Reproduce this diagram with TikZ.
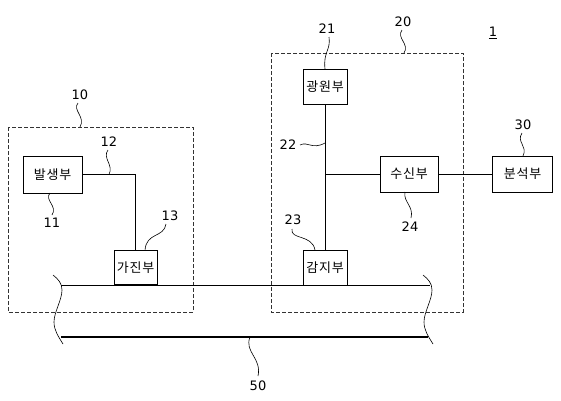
\documentclass[tikz,border=0pt]{standalone}
\usepackage{fontspec}
\setmainfont{DejaVu Sans}
\newfontfamily\kr[LetterSpace=6]{Noto Sans CJK KR}
\begin{document}
\begin{tikzpicture}[x=1pt,y=-1pt,
  blk/.style={draw, line width=0.8pt, inner sep=0pt, font=\kr\fontsize{13}{13}\selectfont},
  grp/.style={draw=black!80, dashed, dash pattern=on 4pt off 2pt, line width=0.8pt},
  wire/.style={line width=0.9pt},
  lead/.style={line width=0.6pt},
  num/.style={font=\fontsize{13}{13}\selectfont, inner sep=0pt}]
\useasboundingbox (0,0) rectangle (561,400);
% dashed groups
\draw[grp] (8,127) rectangle (193,312);
\draw[grp] (271,53) rectangle (463,312);
% blocks
\node[blk, minimum width=59pt, minimum height=37pt] (gen) at (52.5,174.5) {발생부};
\node[blk, minimum width=43pt, minimum height=34pt] (exc) at (135.5,267.5) {가진부};
\node[blk, minimum width=44pt, minimum height=35pt] (src) at (325,86.5) {광원부};
\node[blk, minimum width=44pt, minimum height=35pt] (det) at (325,267.5) {감지부};
\node[blk, minimum width=58pt, minimum height=36pt] (rcv) at (409,174) {수신부};
\node[blk, minimum width=60pt, minimum height=36pt] (ana) at (522.5,174) {분석부};
% connectors
\draw[wire] (gen.east) -| (exc.north);
\draw[wire] (src.south) -- (det.north);
\coordinate (j) at (325,174);
\draw[wire] (j) -- (rcv.west);
\draw[wire] (rcv.east) -- (ana.west);
% structure 50
\coordinate (uL) at (61,285); \coordinate (uR) at (430,285);
\coordinate (lL) at (61,337); \coordinate (lR) at (428,337);
\draw[wire] (uL) -- (uR);
\draw[line width=1.6pt] (lL) -- (lR);
\draw[lead] (53,275) .. controls (58,279) and (62,283) .. (62,290)
  .. controls (62,300) and (54,312) .. (54,322)
  .. controls (54,330) and (58,336) .. (63,344);
\draw[lead] (423,275) .. controls (428,279) and (432,283) .. (432,290)
  .. controls (432,300) and (424,312) .. (424,322)
  .. controls (424,330) and (428,336) .. (433,344);
% leaders and numbers
\node[num] (n10) at (80,95) {10};
\draw[lead] (78,103) .. controls (72,110) and (86,117) .. (80,127);
\node[num] (n12) at (109,142) {12};
\draw[lead] (108,150) .. controls (102,158) and (114,165) .. (109,174.5);
\node[num] (n11) at (52,223) {11};
\draw[lead] (50,193) .. controls (44,200) and (58,206) .. (52,215);
\node[num] (n13) at (170,216) {13};
\draw[lead] (166,224) .. controls (164,238) and (146,232) .. (145,250.5);
\node[num] (n20) at (403,22) {20};
\draw[lead] (402,30) .. controls (396,38) and (410,44) .. (404,53);
\node[num] (n21) at (327,29) {21};
\draw[lead] (329,37) .. controls (331,50) and (323,52) .. (325,69);
\node[num] (n22) at (288,145) {22};
\draw[lead] (300,145) .. controls (308,141) and (312,150) .. (325,143);
\node[num] (n23) at (293,220) {23};
\draw[lead] (292,229) .. controls (290,240) and (312,234) .. (315,250);
\node[num] (n24) at (410,227) {24};
\draw[lead] (405,192) .. controls (403,202) and (414,206) .. (411,218);
\node[num] (n30) at (523,125) {30};
\draw[lead] (522,133) .. controls (516,142) and (528,146) .. (523,156);
\node[num] (n50) at (258,386) {50};
\draw[lead] (250,337) .. controls (244,352) and (262,358) .. (258,376);
\node[num] (n1) at (493,33) {\underline{1}};
\end{tikzpicture}
\end{document}
